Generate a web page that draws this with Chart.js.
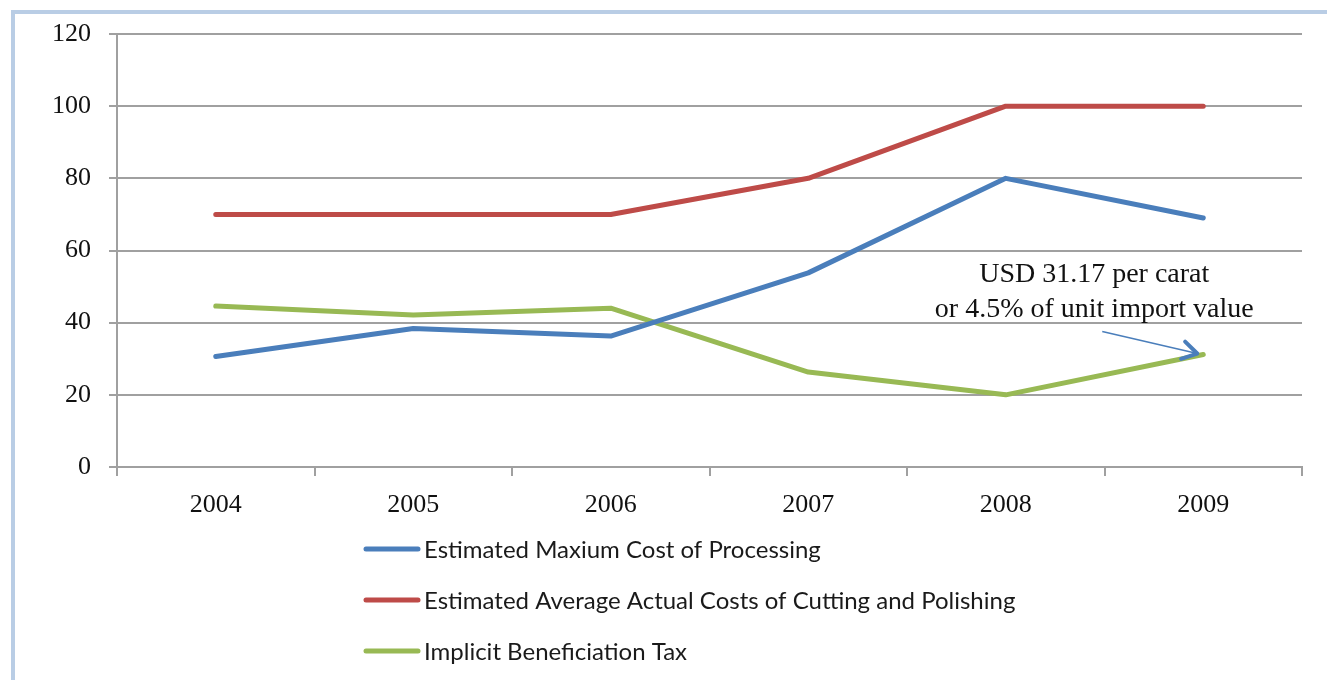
<!DOCTYPE html>
<html lang="en">
<head>
  <meta charset="UTF-8">
  <title>Beneficiation Tax</title>
  <script src="https://cdn.jsdelivr.net/npm/chart.js"></script>
  <style>
    html, body { margin: 0; padding: 0; background: #fff; }
    .frame {
      position: absolute; left: 0; top: 0; width: 1327px; height: 680px; overflow: hidden;
    }
    .edge {
      position: absolute; left: 11px; top: 10px; right: -10px; bottom: -10px;
      border-top: 4px solid #b9cde5; border-left: 4px solid #b9cde5;
    }
    canvas { position: absolute; left: 0; top: 0; }
  </style>
</head>
<body>
  <div class="frame">
    <div class="edge"></div>
    <canvas id="grafico" width="1327" height="680"></canvas>
  </div>

  <script>
    var years = ['2004', '2005', '2006', '2007', '2008', '2009'];
    var maxCost = [30.6, 38.4, 36.3, 53.8, 80, 69];
    var avgCost = [70, 70, 70, 80, 100, 100];
    var impliedTax = [44.6, 42.1, 44.0, 26.3, 20, 31.17];
    var yTicks = [0, 20, 40, 60, 80, 100, 120];
    var seriesNames = [
      'Estimated Maxium Cost of Processing',
      'Estimated Average Actual Costs of Cutting and Polishing',
      'Implicit Beneficiation Tax'
    ];
    var note = ['USD 31.17 per carat', 'or 4.5% of unit import value'];

    var serif = '"Liberation Serif", "DejaVu Serif", serif';
    var sans = 'Lato, "Open Sans", sans-serif';
    var gridGray = '#a0a0a0';

    // legend stacked under the plot, one series per row
    var listaLeyenda = {
      id: 'listaLeyenda',
      afterDraw: function (chart) {
        var ctx = chart.ctx;
        ctx.save();
        chart.data.datasets.forEach(function (ds, i) {
          var y = 549 + i * 51;
          ctx.strokeStyle = ds.borderColor;
          ctx.lineWidth = 5;
          ctx.lineCap = 'round';
          ctx.beginPath();
          ctx.moveTo(366, y);
          ctx.lineTo(418, y);
          ctx.stroke();
          ctx.fillStyle = '#1a1a1a';
          ctx.font = '24px ' + sans;
          ctx.textBaseline = 'middle';
          ctx.fillText(ds.label, 424, y + 1);
        });
        ctx.restore();
      }
    };

    // note with arrow pointing at the last tax value
    var nota = {
      id: 'nota',
      afterDatasetsDraw: function (chart) {
        var ctx = chart.ctx;
        var pt = chart.getDatasetMeta(2).data[years.length - 1];
        ctx.save();
        ctx.fillStyle = '#111';
        ctx.font = '28px ' + serif;
        ctx.textAlign = 'center';
        ctx.textBaseline = 'middle';
        ctx.fillText(note[0], pt.x - 109, pt.y - 80);
        ctx.fillText(note[1], pt.x - 109, pt.y - 45);

        var x1 = pt.x - 101, y1 = pt.y - 23;
        var x2 = pt.x - 6, y2 = pt.y - 1;
        ctx.strokeStyle = '#4a7ebb';
        ctx.lineWidth = 1.5;
        ctx.beginPath();
        ctx.moveTo(x1, y1);
        ctx.lineTo(x2, y2);
        ctx.stroke();
        var a = Math.atan2(y2 - y1, x2 - x1);
        ctx.lineWidth = 4;
        ctx.lineCap = 'round';
        ctx.lineJoin = 'round';
        ctx.beginPath();
        ctx.moveTo(x2 - 17 * Math.cos(a - 0.55), y2 - 17 * Math.sin(a - 0.55));
        ctx.lineTo(x2, y2);
        ctx.lineTo(x2 - 17 * Math.cos(a + 0.55), y2 - 17 * Math.sin(a + 0.55));
        ctx.stroke();
        ctx.restore();
      }
    };

    var colores = ['#4a7ebb', '#be4b48', '#98b954'];
    var series = [maxCost, avgCost, impliedTax];

    new Chart(document.getElementById('grafico'), {
      type: 'line',
      data: {
        labels: years,
        datasets: series.map(function (vals, i) {
          return {
            label: seriesNames[i],
            data: vals,
            borderColor: colores[i],
            backgroundColor: colores[i],
            borderWidth: 5,
            pointRadius: 0,
            tension: 0,
            borderCapStyle: 'round',
            borderJoinStyle: 'round'
          };
        })
      },
      options: {
        responsive: false,
        animation: false,
        layout: { padding: { left: 0, top: 34, right: 25, bottom: 0 } },
        plugins: {
          legend: { display: false },
          tooltip: { enabled: false }
        },
        scales: {
          x: {
            offset: true,
            afterFit: function (s) { s.height = 213; },
            grid: {
              offset: true,
              drawOnChartArea: false,
              drawTicks: true,
              tickLength: 9,
              color: gridGray,
              lineWidth: 2
            },
            border: { display: true, color: gridGray, width: 2 },
            ticks: {
              color: '#111',
              font: { family: serif, size: 26 },
              padding: 14,
              maxRotation: 0
            }
          },
          y: {
            min: 0,
            max: 120,
            afterFit: function (s) { s.width = 117; },
            afterBuildTicks: function (s) {
              s.ticks = yTicks.map(function (v) { return { value: v }; });
            },
            grid: {
              color: gridGray,
              lineWidth: 2,
              tickLength: 8
            },
            border: { display: true, color: gridGray, width: 2 },
            ticks: {
              color: '#111',
              font: { family: serif, size: 26 },
              padding: 18
            }
          }
        }
      },
      plugins: [listaLeyenda, nota]
    });
  </script>
</body>
</html>
